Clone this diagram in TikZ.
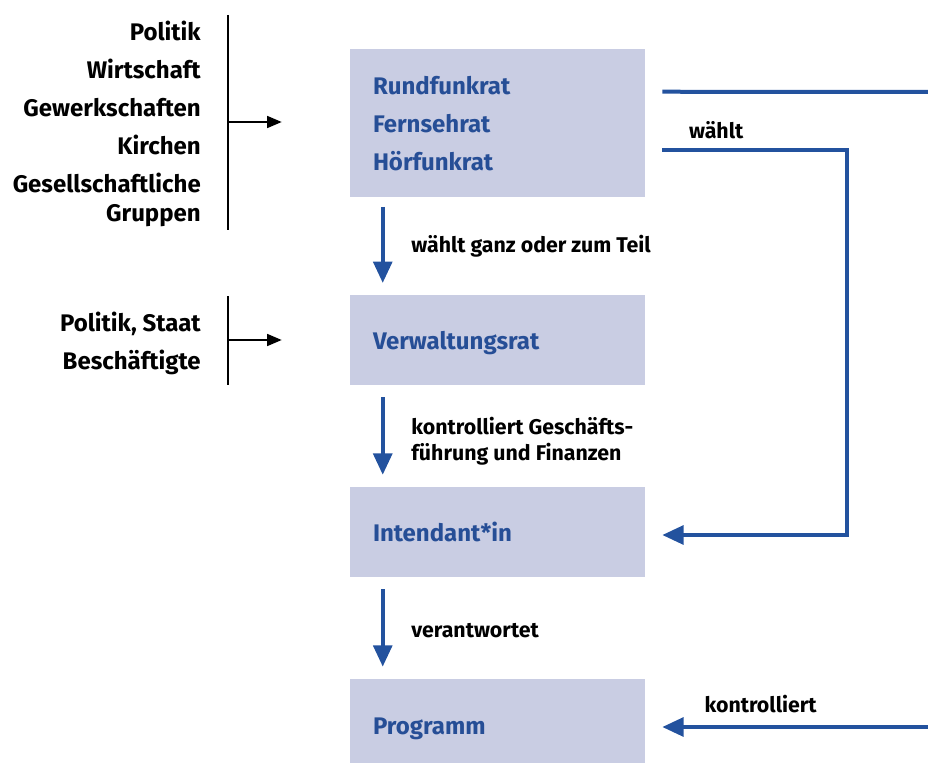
\documentclass[tikz,border=0pt]{standalone}
\usepackage{fontspec}
\setmainfont{Fira Sans}
\usepackage{tikz}
\usetikzlibrary{arrows.meta,positioning}
\usepackage{xcolor}
\definecolor{rfblue}{RGB}{35,82,158}
\definecolor{rftext}{RGB}{38,78,150}
\definecolor{rflilac}{RGB}{201,205,227}
\tikzstyle{gremium} = [rectangle, fill=rflilac, minimum width=221.25pt, text width=186.75pt, inner xsep=17.25pt, inner ysep=0pt, align=left, text=rftext, font=\fontsize{18}{28.5}\selectfont\bfseries]
\tikzstyle{gruppe} = [align=right, anchor=east, inner sep=0pt, font=\fontsize{18}{28.5}\selectfont\bfseries]
\tikzstyle{beschr} = [align=left, inner sep=0pt, text=black, font=\fontsize{16}{19.5}\selectfont\bfseries]
\tikzstyle{bluearrow} = [line width=3pt, color=rfblue, -{Triangle[length=16pt,width=14pt]}]
\tikzstyle{blueline} = [line width=3pt, color=rfblue]
\tikzstyle{blackarrow} = [line width=1.3pt, -{Triangle[length=11pt,width=9pt]}]

\begin{document}
\begin{tikzpicture}[x=0.75pt, y=-0.75pt, node distance=76pt]
\useasboundingbox (0,0) rectangle (928,763);
% Gremien
\node (rat) [gremium, minimum height=111pt, yshift=-1pt] at (497.5,122) {Rundfunkrat\\Fernsehrat\\Hörfunkrat};
\node (vwrat) [gremium, minimum height=67.5pt, below=73pt of rat, text depth=0pt] {Verwaltungsrat};
\node (intendanz) [gremium, minimum height=67.5pt, below=of vwrat] {Intendant*in};
\node (programm) [gremium, minimum height=75pt, below=of intendanz] {Programm};

\draw[bluearrow] ([xshift=24.75pt,yshift=-7pt]rat.south west) -- node[beschr, right=20pt, yshift=-1pt] {wählt ganz oder zum Teil} ([xshift=24.75pt,yshift=9pt]vwrat.north west);
\draw[bluearrow] ([xshift=24.75pt,yshift=-9pt]vwrat.south west) -- node[beschr, right=20pt, yshift=-3.5pt] {kontrolliert Geschäfts-\\führung und Finanzen} ([xshift=24.75pt,yshift=9pt]intendanz.north west);
\draw[bluearrow] ([xshift=24.75pt,yshift=-9pt]intendanz.south west) -- node[beschr, right=20pt, yshift=-2pt] {verantwortet} ([xshift=24.75pt,yshift=9pt]programm.north west);

% Entsendende Gruppen
\node (gruppen1) [gruppe] at (201,124) {Politik\\Wirtschaft\\Gewerkschaften\\Kirchen\\Gesellschaftliche\\[-6.75pt]Gruppen};
\node (gruppen2) [gruppe] at (201,343) {Politik, Staat\\Beschäftigte};
\coordinate (klammer1) at (228,122);
\coordinate (klammer2) at (228,340);
\draw[line width=1.3pt] (228,15) -- (228,230);
\draw[line width=1.3pt] (228,296) -- (228,385);
\draw[blackarrow] (klammer1) -- ([xshift=-51pt]rat.west |- klammer1);
\draw[blackarrow] (klammer2) -- ([xshift=-51pt]vwrat.west |- klammer2);

% Rechte Seite
\coordinate (rtop) at (928,92);
\coordinate (knick) at (847,535);
\coordinate (rbottom) at (928,727);
\draw[blueline] ([xshift=12.75pt,yshift=-32pt]rat.north east) -- (rtop);
\draw[bluearrow] ([xshift=12.75pt,yshift=-75.5pt]rat.north east) -| node[beschr, pos=0.146, above=7pt] {wählt} (knick) -- ([xshift=12.75pt]knick -| intendanz.east);
\draw[bluearrow] (rbottom) -- node[beschr, pos=0.63, above=9pt] {kontrolliert} ([xshift=12.75pt]rbottom -| programm.east);
\end{tikzpicture}
\end{document}
